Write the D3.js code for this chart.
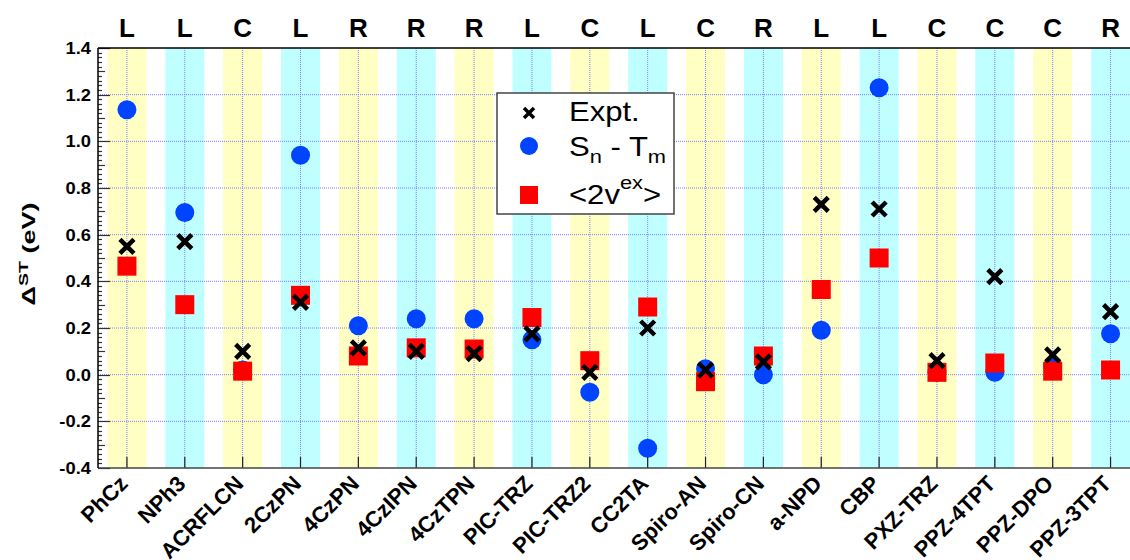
<!DOCTYPE html>
<html>
<head>
<meta charset="utf-8">
<script src="https://cdn.jsdelivr.net/npm/d3@7"></script>
<style>
  body { margin: 0; background: #fff; }
  text { font-family: "Liberation Sans", Arial, sans-serif; }
</style>
</head>
<body>
<div id="chart"></div>
<script>
// molecules and their L / C / R classification
var molecules = ["PhCz", "NPh3", "ACRFLCN", "2CzPN", "4CzPN", "4CzIPN", "4CzTPN", "PIC-TRZ", "PIC-TRZ2",
  "CC2TA", "Spiro-AN", "Spiro-CN", "a-NPD", "CBP", "PXZ-TRZ", "PPZ-4TPT", "PPZ-DPO", "PPZ-3TPT"];
var classes = ["L", "L", "C", "L", "R", "R", "R", "L", "C", "L", "C", "R", "L", "L", "C", "C", "C", "R"];

// series (eV)
var expt   = [0.55, 0.57, 0.10, 0.31, 0.115, 0.10, 0.09, 0.175, 0.01, 0.20, 0.02, 0.055, 0.73, 0.71, 0.06, 0.42, 0.085, 0.27];
var sntm   = [1.135, 0.695, 0.02, 0.94, 0.21, 0.24, 0.24, 0.15, -0.075, -0.315, 0.025, 0.0, 0.19, 1.23, 0.01, 0.01, 0.035, 0.175];
var vex    = [0.465, 0.30, 0.015, 0.34, 0.08, 0.115, 0.11, 0.245, 0.06, 0.29, -0.03, 0.08, 0.365, 0.50, 0.01, 0.05, 0.015, 0.02];

var yTicks = [-0.4, -0.2, 0.0, 0.2, 0.4, 0.6, 0.8, 1.0, 1.2, 1.4];

var W = 1130, H = 560;
var mLeft = 98, mTop = 48, mBottom = 468;

var svg = d3.select("#chart").append("svg")
  .attr("width", W).attr("height", H);

// x: one band per molecule, index scale
var step = 57.86;
var x = d3.scaleLinear().domain([-0.5, molecules.length - 0.5]).range([mLeft, mLeft + step * molecules.length]);
var y = d3.scaleLinear().domain([-0.4, 1.4]).range([mBottom, mTop]);

var plot = svg.append("g");

// background stripes
plot.selectAll("rect.stripe")
  .data(molecules)
  .enter().append("rect")
  .attr("class", "stripe")
  .attr("x", (d, i) => x(i) - 19.5)
  .attr("y", mTop)
  .attr("width", 39)
  .attr("height", mBottom - mTop)
  .attr("fill", (d, i) => i % 2 == 0 ? "#ffffc4" : "#c0ffff");

// dotted grid
var gridColor = "#7c7cff";
plot.selectAll("line.vgrid")
  .data(molecules)
  .enter().append("line")
  .attr("x1", (d, i) => x(i)).attr("x2", (d, i) => x(i))
  .attr("y1", mTop).attr("y2", mBottom)
  .attr("stroke", gridColor).attr("stroke-width", 1)
  .attr("stroke-dasharray", "1,1");

plot.selectAll("line.hgrid")
  .data(yTicks.slice(1, -1))
  .enter().append("line")
  .attr("x1", mLeft).attr("x2", W)
  .attr("y1", d => y(d)).attr("y2", d => y(d))
  .attr("stroke", gridColor).attr("stroke-width", 1)
  .attr("stroke-dasharray", "1,1");

// y axis ticks (inside): minor 0.02, medium 0.1, major 0.2
var minor = d3.range(-20, 71).map(k => k * 0.02);
svg.selectAll("line.ytick")
  .data(minor)
  .enter().append("line")
  .attr("x1", mLeft)
  .attr("x2", d => {
    var k = Math.round(d * 50);
    if (k % 10 == 0) return mLeft + 12;
    if (k % 5 == 0) return mLeft + 7;
    return mLeft + 4;
  })
  .attr("y1", d => Math.round(y(d)) + 0.5).attr("y2", d => Math.round(y(d)) + 0.5)
  .attr("stroke", "#333").attr("stroke-width", 1.2);

// x ticks (inside, at bottom)
svg.selectAll("line.xtick")
  .data(molecules)
  .enter().append("line")
  .attr("x1", (d, i) => x(i)).attr("x2", (d, i) => x(i))
  .attr("y1", mBottom).attr("y2", mBottom - 11)
  .attr("stroke", "#222").attr("stroke-width", 1.2);

// frame
svg.append("line").attr("x1", mLeft).attr("x2", W).attr("y1", mTop).attr("y2", mTop)
  .attr("stroke", "#000").attr("stroke-width", 1.5);
svg.append("line").attr("x1", mLeft).attr("x2", W).attr("y1", mBottom).attr("y2", mBottom)
  .attr("stroke", "#444").attr("stroke-width", 1.5);
svg.append("line").attr("x1", mLeft).attr("x2", mLeft).attr("y1", mTop).attr("y2", mBottom)
  .attr("stroke", "#000").attr("stroke-width", 1.5);

// y tick labels
svg.selectAll("text.ylab")
  .data(yTicks)
  .enter().append("text")
  .attr("transform", d => "translate(" + (mLeft - 7) + "," + (y(d) + 6) + ") scale(1.08,1)")
  .attr("text-anchor", "end")
  .attr("font-size", "17px")
  .attr("font-weight", "bold")
  .text(d => d.toFixed(1));

// y title (glyphs look stretched along the text in the original)
var yt = svg.append("text")
  .attr("transform", "translate(35,254) rotate(-90) scale(1.5,1)")
  .attr("text-anchor", "middle")
  .attr("font-size", "18px")
  .attr("font-weight", "bold");
yt.append("tspan").text("\u0394");
yt.append("tspan").attr("font-size", "13px").attr("dy", "-7").text("ST");
yt.append("tspan").attr("dy", "7").text(" (eV)");

// top class labels
svg.selectAll("text.cls")
  .data(classes)
  .enter().append("text")
  .attr("x", (d, i) => x(i))
  .attr("y", 37)
  .attr("text-anchor", "middle")
  .attr("font-size", "26px")
  .attr("font-weight", "bold")
  .text(d => d);

// x labels, rotated 45 degrees
svg.selectAll("text.xlab")
  .data(molecules)
  .enter().append("text")
  .attr("transform", (d, i) => "translate(" + (x(i) + 2) + "," + 485 + ") rotate(-45)")
  .attr("text-anchor", "end")
  .attr("font-size", "22px")
  .attr("font-weight", "bold")
  .text(d => d);

// markers: circles, then squares, then crosses
var blue = "#0044ff", red = "#ff0000";
plot.selectAll("circle.sn")
  .data(sntm)
  .enter().append("circle")
  .attr("cx", (d, i) => x(i))
  .attr("cy", d => y(d))
  .attr("r", 9.5)
  .attr("fill", blue);

plot.selectAll("rect.vex")
  .data(vex)
  .enter().append("rect")
  .attr("x", (d, i) => x(i) - 9.5)
  .attr("y", d => y(d) - 9.5)
  .attr("width", 19).attr("height", 19)
  .attr("fill", red);

function cross(g, cx, cy, s, w) {
  g.append("path")
    .attr("d", `M${cx - s},${cy - s}L${cx + s},${cy + s}M${cx - s},${cy + s}L${cx + s},${cy - s}`)
    .attr("stroke", "#000").attr("stroke-width", w).attr("fill", "none");
}
expt.forEach((d, i) => cross(plot, x(i), y(d), 7, 4.5));

// legend
var lg = svg.append("g").attr("transform", "translate(497,93)");
lg.append("rect").attr("width", 177).attr("height", 121)
  .attr("fill", "#fff").attr("stroke", "#444").attr("stroke-width", 1.5);
cross(lg, 32, 20, 5, 3.5);
lg.append("circle").attr("cx", 32).attr("cy", 53).attr("r", 9).attr("fill", blue);
lg.append("rect").attr("x", 23).attr("y", 93).attr("width", 18).attr("height", 18).attr("fill", red);

var lt = lg.append("g").attr("transform", "translate(72,0) scale(1.15,1)").attr("font-size", "27px");
lt.append("text").attr("x", 0).attr("y", 28).text("Expt.");
var t2 = lt.append("text").attr("x", 0).attr("y", 63);
t2.append("tspan").text("S");
t2.append("tspan").attr("font-size", "19px").attr("dy", 7).text("n");
t2.append("tspan").attr("dy", -7).text(" - T");
t2.append("tspan").attr("font-size", "19px").attr("dy", 7).text("m");
var t3 = lt.append("text").attr("x", 0).attr("y", 111);
t3.append("tspan").text("<2v");
t3.append("tspan").attr("font-size", "19px").attr("dy", -15).text("ex");
t3.append("tspan").attr("dy", 15).text(">");
</script>
</body>
</html>
